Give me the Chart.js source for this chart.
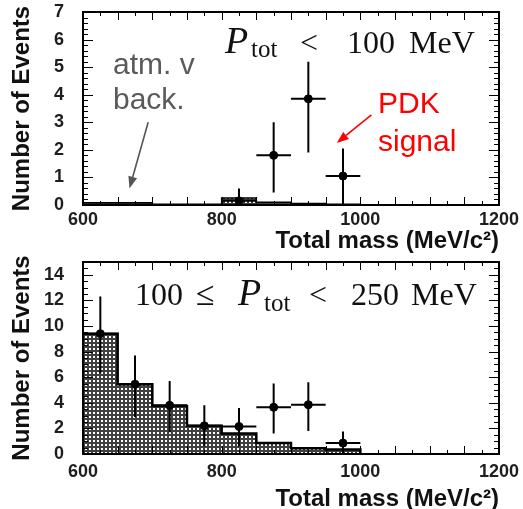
<!DOCTYPE html>
<html>
<head>
<meta charset="utf-8">
<script src="https://cdn.jsdelivr.net/npm/chart.js@4.4.1/dist/chart.umd.min.js"></script>
<style>
  body { margin: 0; background: #fff; width: 523px; height: 509px; position: relative; overflow: hidden; }
  canvas { position: absolute; left: 0; }
  #c1 { top: 0; }
  #c2 { top: 255px; }
  .note { position: absolute; white-space: nowrap; font-family: "Liberation Sans", Arial, sans-serif; font-size: 30px; }
  .gray { color: #5a5a5a; line-height: 35px; left: 113px; top: 46px; }
  .red { color: #ff0000; line-height: 38px; left: 378px; top: 84px; }
  .tex span { position: absolute; white-space: nowrap; font-family: "Liberation Serif", "DejaVu Serif", serif; font-size: 32px; line-height: 1; color: #111; }
  .tex .p { font-style: italic; font-size: 38px; }
  .tex .s { font-size: 25px; }
</style>
</head>
<body>
<canvas id="c1" width="523" height="255"></canvas>
<canvas id="c2" width="523" height="258"></canvas>

<div class="note gray">atm. v<br>back.</div>
<div class="note red">PDK<br>signal</div>
<div class="tex">
  <span class="p" style="left:225px;top:21px">P</span><span class="s" style="left:251px;top:36px">tot</span>
  <span style="left:300px;top:26px">&lt;</span><span style="left:347px;top:26px">100</span><span style="left:409px;top:26px">MeV</span>
</div>
<div class="tex">
  <span style="left:135px;top:278px">100</span><span style="left:196px;top:277px;font-size:34px">≤</span>
  <span class="p" style="left:238px;top:273px">P</span><span class="s" style="left:264px;top:290px">tot</span>
  <span style="left:309px;top:278px">&lt;</span><span style="left:351px;top:278px">250</span><span style="left:411px;top:278px">MeV</span>
</div>

<script>
// bins (MeV/c^2)
const binEdges = [600, 650, 700, 750, 800, 850, 900, 950, 1000];
const binHalf = 25;
const xTicks = [600, 800, 1000, 1200];
const topYTicks = [0, 1, 2, 3, 4, 5, 6, 7];
const botYTicks = [0, 2, 4, 6, 8, 10, 12, 14];

// P_tot < 100 MeV
const topBackground = [0.08, 0.08, 0.03, 0.03, 0.25, 0.1, 0.05, 0.03];
const topMass = [825, 875, 925, 975];
const topEvents = [0.15, 1.8, 3.85, 1.05];
const topErrLow = [0, 0.45, 1.9, 0];
const topErrHigh = [0.6, 3.0, 5.2, 2.05];

// 100 <= P_tot < 250 MeV
const botBackground = [9.4, 5.45, 3.75, 2.2, 1.6, 0.85, 0.45, 0.35];
const botMass = [625, 675, 725, 775, 825, 875, 925, 975];
const botEvents = [9.4, 5.45, 3.8, 2.2, 2.15, 3.65, 3.85, 0.85];
const botErrLow = [6.3, 2.9, 1.7, 0.6, 0.6, 1.6, 1.8, 0];
const botErrHigh = [12.3, 7.7, 5.7, 3.8, 3.6, 5.5, 5.6, 1.75];

const SANS = '"Liberation Sans", Arial, sans-serif';

function hatch() {
    const c = document.createElement('canvas');
    c.width = 4; c.height = 4;
    const g = c.getContext('2d');
    g.fillStyle = '#404040';
    g.fillRect(0, 0, 4, 4);
    g.fillStyle = '#ffffff';
    g.fillRect(1, 1, 2, 2);
    return g.createPattern(c, 'repeat');
}

// frame + inside ticks, error bars, arrows
const rootStyle = {
    id: 'rootStyle',
    afterDatasetsDraw(chart, args, opts) {
        const { ctx, chartArea: a, scales: { x, y } } = chart;
        ctx.save();
        ctx.strokeStyle = '#000';

        // error bars
        ctx.lineWidth = 2;
        chart.data.datasets[0].data.forEach(p => {
            const px = x.getPixelForValue(p.x), py = y.getPixelForValue(p.y);
            ctx.beginPath();
            ctx.moveTo(x.getPixelForValue(p.x - binHalf), py);
            ctx.lineTo(x.getPixelForValue(p.x + binHalf), py);
            ctx.moveTo(px, y.getPixelForValue(p.lo));
            ctx.lineTo(px, y.getPixelForValue(p.hi));
            ctx.stroke();
        });

        // ticks inside the frame
        ctx.lineWidth = 1;
        ctx.beginPath();
        for (let v = x.min; v <= x.max; v += 25) {
            const px = Math.round(x.getPixelForValue(v)) + 0.5;
            const len = v % 50 === 0 ? 8 : 4;
            ctx.moveTo(px, a.bottom); ctx.lineTo(px, a.bottom - len);
            ctx.moveTo(px, a.top); ctx.lineTo(px, a.top + len);
        }
        const steps = Math.round(y.max / opts.yMinor);
        for (let i = 0; i <= steps; i++) {
            const v = i * opts.yMinor;
            const py = Math.round(y.getPixelForValue(v)) + 0.5;
            const major = Math.abs(v / opts.yMajor - Math.round(v / opts.yMajor)) < 1e-6;
            const len = major ? 10 : 5;
            ctx.moveTo(a.left, py); ctx.lineTo(a.left + len, py);
            ctx.moveTo(a.right, py); ctx.lineTo(a.right - len, py);
        }
        ctx.stroke();

        ctx.lineWidth = 2;
        ctx.strokeRect(a.left, a.top, a.right - a.left, a.bottom - a.top);

        // annotation arrows
        (opts.arrows || []).forEach(ar => {
            const x0 = x.getPixelForValue(ar.from[0]), y0 = y.getPixelForValue(ar.from[1]);
            const x1 = x.getPixelForValue(ar.to[0]), y1 = y.getPixelForValue(ar.to[1]);
            const ang = Math.atan2(y1 - y0, x1 - x0);
            const hl = 12, hw = 4.5;
            ctx.strokeStyle = ar.color;
            ctx.fillStyle = ar.color;
            ctx.lineWidth = 1.6;
            ctx.beginPath();
            ctx.moveTo(x0, y0);
            ctx.lineTo(x1 - hl * Math.cos(ang), y1 - hl * Math.sin(ang));
            ctx.stroke();
            ctx.beginPath();
            ctx.moveTo(x1, y1);
            ctx.lineTo(x1 - hl * Math.cos(ang) + hw * Math.sin(ang), y1 - hl * Math.sin(ang) - hw * Math.cos(ang));
            ctx.lineTo(x1 - hl * Math.cos(ang) - hw * Math.sin(ang), y1 - hl * Math.sin(ang) + hw * Math.cos(ang));
            ctx.closePath();
            ctx.fill();
        });
        ctx.restore();
    }
};

function histPoints(vals) {
    return binEdges.map((e, i) => ({ x: e, y: i < vals.length ? vals[i] : 0 }));
}

function makeChart(id, cfg) {
    const ctx = document.getElementById(id).getContext('2d');
    const points = cfg.mass.map((m, i) => ({ x: m, y: cfg.events[i], lo: cfg.lo[i], hi: cfg.hi[i] }));
    return new Chart(ctx, {
        type: 'scatter',
        data: {
            datasets: [{
                label: 'Data',
                data: points,
                order: 0,
                pointRadius: 4,
                pointBackgroundColor: '#000',
                pointBorderColor: '#000',
                showLine: false
            }, {
                type: 'line',
                label: 'atm. background',
                data: histPoints(cfg.background),
                order: 1,
                stepped: 'before',
                fill: 'origin',
                backgroundColor: hatch(),
                borderColor: '#000',
                borderWidth: cfg.histLine,
                pointRadius: 0,
                tension: 0
            }]
        },
        options: {
            responsive: false,
            animation: false,
            layout: { padding: { top: cfg.padTop, right: 24, left: 0, bottom: 0 } },
            plugins: {
                legend: { display: false },
                tooltip: { enabled: false },
                rootStyle: { yMajor: cfg.yMajor, yMinor: cfg.yMinor, arrows: cfg.arrows }
            },
            scales: {
                x: {
                    type: 'linear',
                    min: 600,
                    max: 1200,
                    afterBuildTicks: s => { s.ticks = xTicks.map(v => ({ value: v })); },
                    afterFit: s => { s.height = cfg.xAxisH; },
                    // grid hidden; tickLength only spaces the labels
                    grid: { display: false, drawTicks: true, tickLength: cfg.xTickPad },
                    border: { display: false },
                    ticks: {
                        padding: 0,
                        maxRotation: 0,
                        autoSkip: false,
                        callback: v => String(v),
                        color: '#1e1e1e',
                        font: { family: SANS, size: 18, weight: 'bold' }
                    },
                    title: {
                        display: true,
                        text: 'Total mass (MeV/c²)',
                        align: 'end',
                        color: '#111',
                        padding: { top: 0, bottom: 2 },
                        font: { family: SANS, size: 24, weight: 'bold', lineHeight: 1 }
                    }
                },
                y: {
                    min: 0,
                    max: cfg.yMax,
                    afterBuildTicks: s => { s.ticks = cfg.yTicks.map(v => ({ value: v })); },
                    afterFit: s => { s.width = 83; },
                    grid: { display: false, drawTicks: true, tickLength: 19 },
                    border: { display: false },
                    ticks: {
                        padding: 0,
                        autoSkip: false,
                        color: '#1e1e1e',
                        font: { family: SANS, size: 18, weight: 'bold', lineHeight: 0.7 }
                    },
                    title: {
                        display: true,
                        text: 'Number of Events',
                        color: '#111',
                        padding: { top: 10, bottom: 0 },
                        font: { family: SANS, size: 24, weight: 'bold', lineHeight: 1 }
                    }
                }
            }
        },
        plugins: [rootStyle]
    });
}

makeChart('c1', {
    mass: topMass, events: topEvents, lo: topErrLow, hi: topErrHigh,
    background: topBackground, histLine: 1.5,
    yMax: 7, yTicks: topYTicks, yMajor: 1, yMinor: 0.2,
    padTop: 12, xAxisH: 50, xTickPad: 4,
    arrows: [
        { from: [694, 3.0], to: [667, 0.6], color: '#555' },
        { from: [1016, 3.27], to: [966, 2.25], color: '#ff0000' }
    ]
});

makeChart('c2', {
    mass: botMass, events: botEvents, lo: botErrLow, hi: botErrHigh,
    background: botBackground, histLine: 2.5,
    yMax: 15, yTicks: botYTicks, yMajor: 2, yMinor: 0.5,
    padTop: 7, xAxisH: 59, xTickPad: 7,
    arrows: []
});
</script>
</body>
</html>
